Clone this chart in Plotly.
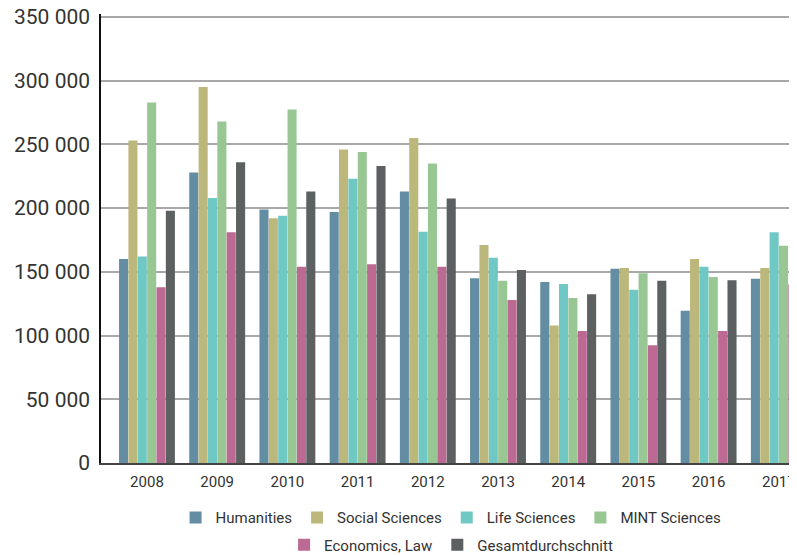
import plotly.graph_objects as go

years = ["2008", "2009", "2010", "2011", "2012", "2013", "2014", "2015", "2016", "2017"]

humanities = [160000, 228000, 199000, 197000, 213000, 145000, 142000, 152500, 119500, 144500]
social_sciences = [253000, 295000, 192000, 246000, 255000, 171000, 108000, 153000, 160000, 153000]
life_sciences = [162000, 208000, 194000, 223000, 181500, 161000, 140500, 136000, 154000, 181000]
mint_sciences = [283000, 268000, 277500, 244000, 235000, 143000, 129500, 149000, 146000, 170500]
economics_law = [138000, 181000, 154000, 156000, 154000, 128000, 103500, 92500, 103500, 140000]
gesamtdurchschnitt = [198000, 236000, 213000, 233000, 207500, 151500, 132500, 143000, 143500, 152000]

series_names = ["Humanities", "Social Sciences", "Life Sciences", "MINT Sciences",
                "Economics, Law", "Gesamtdurchschnitt"]
series_values = [humanities, social_sciences, life_sciences, mint_sciences,
                 economics_law, gesamtdurchschnitt]
colors = ["#628da2", "#bcb87b", "#70c8c5", "#98c794", "#bc6994", "#5c6061"]
legend_ids = ["legend", "legend", "legend", "legend", "legend2", "legend2"]

y_tickvals = [0, 50000, 100000, 150000, 200000, 250000, 300000, 350000]
y_ticktext = ["0", "50 000", "100 000", "150 000", "200 000", "250 000", "300 000", "350 000"]

fig = go.Figure()
for name, vals, col, lg in zip(series_names, series_values, colors, legend_ids):
    fig.add_trace(go.Bar(
        x=list(range(len(years))), y=vals, name=name,
        marker=dict(color=col, line=dict(width=0)),
        legend=lg,
    ))

font_family = "Roboto, 'DejaVu Sans', sans-serif"

# the page body adds an 8px margin, so the figure is sized 8px smaller
fig.update_layout(
    width=789, height=547,
    margin=dict(l=93, r=0, t=6, b=92, autoexpand=False),
    paper_bgcolor="white", plot_bgcolor="white",
    barmode="group", bargap=0.2, bargroupgap=0.03,
    font=dict(family=font_family, color="#333333"),
    showlegend=True,
    legend=dict(orientation="h", x=0.503, xanchor="center", y=-0.085, yanchor="top",
                font=dict(size=15, color="#333333"), itemwidth=30,
                traceorder="normal"),
    legend2=dict(orientation="h", x=0.503, xanchor="center", y=-0.146, yanchor="top",
                 font=dict(size=15, color="#333333"), itemwidth=30,
                 traceorder="normal"),
)

fig.update_xaxes(
    tickmode="array", tickvals=list(range(len(years))), ticktext=years,
    range=[-0.655, 9.259], automargin=False,
    showline=True, linecolor="#444444", linewidth=2,
    showgrid=False, zeroline=False, ticks="", ticklabelstandoff=4,
    tickfont=dict(size=15, color="#333333"),
)

fig.update_yaxes(
    range=[0, 352354], automargin=False,
    tickmode="array", tickvals=y_tickvals, ticktext=y_ticktext,
    showline=True, linecolor="#111111", linewidth=1.5,
    showgrid=True, gridcolor="#a8a8a8", gridwidth=1.5,
    zeroline=False, ticks="", ticklabelstandoff=5, ticklabeloverflow="allow",
    tickfont=dict(size=21, color="#333333"),
)

fig.write_html("out.html")
